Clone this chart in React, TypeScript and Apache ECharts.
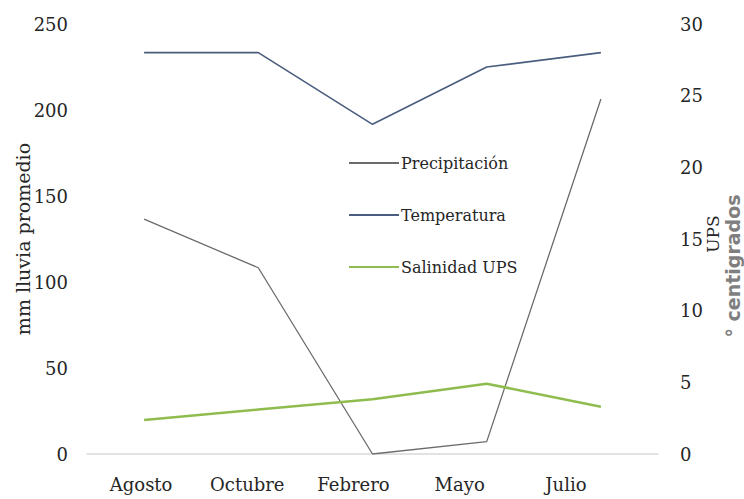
import React, { useEffect, useRef } from "react";
import * as echarts from "echarts";

const categories = ["Agosto", "Octubre", "Febrero", "Mayo", "Julio"];
const precipitacion = [136.5, 108.3, 0, 7.2, 206.4];
const temperatura = [28, 28, 23, 27, 28];
const salinidad = [2.37, 3.1, 3.82, 4.9, 3.3];

const SERIF = "'DejaVu Serif', 'Liberation Serif', serif";

export default function App() {
  const ref = useRef<HTMLDivElement>(null);
  useEffect(() => {
    if (!ref.current) return;
    const chart = echarts.init(ref.current, undefined, { renderer: "svg" });
    chart.setOption({
      animation: false,
      backgroundColor: "#ffffff",
      grid: [
        { left: 87, right: 86, top: 24, bottom: 45 },
        { left: 88, right: 125, top: 24, bottom: 45 },
      ],
      legend: {
        orient: "vertical",
        left: 343,
        top: 150,
        itemWidth: 50,
        itemHeight: 14,
        itemGap: 36,
        itemStyle: { opacity: 0 },
        textStyle: { fontFamily: SERIF, fontSize: 16, color: "#262626", padding: [0, 0, 0, -3] },
        data: ["Precipitación", "Temperatura", "Salinidad UPS"],
      },
      xAxis: [
        {
          type: "category",
          gridIndex: 0,
          data: categories,
          boundaryGap: true,
          axisLine: { lineStyle: { color: "#d9d9d9", width: 1.5 } },
          axisTick: { show: false },
          axisLabel: { show: false },
        },
        {
          type: "category",
          gridIndex: 1,
          data: categories,
          boundaryGap: true,
          axisLine: { show: false },
          axisTick: { show: false },
          axisLabel: { fontFamily: SERIF, fontSize: 18, color: "#262626", margin: 21 },
        },
      ],
      yAxis: [
        {
          type: "value",
          gridIndex: 0,
          min: 0,
          max: 250,
          interval: 50,
          name: "mm lluvia promedio",
          nameLocation: "middle",
          nameGap: 55,
          nameMoveOverlap: false,
          nameTextStyle: { fontFamily: SERIF, fontSize: 19, color: "#262626" },
          axisLine: { show: false },
          axisTick: { show: false },
          splitLine: { show: false },
          axisLabel: { fontFamily: SERIF, fontSize: 18, color: "#262626", margin: 19 },
        },
        {
          type: "value",
          gridIndex: 0,
          min: 0,
          max: 30,
          interval: 5,
          axisLine: { show: false },
          axisTick: { show: false },
          splitLine: { show: false },
          axisLabel: { fontFamily: SERIF, fontSize: 18, color: "#262626", margin: 22 },
        },
        {
          type: "value",
          gridIndex: 1,
          show: false,
        },
      ],
      graphic: [
        {
          type: "text",
          x: 713,
          y: 234,
          rotation: Math.PI / 2,
          style: {
            text: "UPS",
            fontFamily: SERIF,
            fontSize: 17,
            fill: "#262626",
            align: "center",
            verticalAlign: "middle",
          },
        },
        {
          type: "text",
          x: 733,
          y: 266,
          rotation: Math.PI / 2,
          style: {
            text: "° centigrados",
            fontFamily: "'DejaVu Sans', sans-serif",
            fontWeight: "bold",
            fontSize: 19,
            fill: "#7f7f7f",
            align: "center",
            verticalAlign: "middle",
          },
        },
      ],
      series: [
        {
          name: "Precipitación",
          type: "line",
          xAxisIndex: 0,
          yAxisIndex: 0,
          data: precipitacion,
          symbol: "none",
          lineStyle: { color: "#6b6b6b", width: 1.3 },
          itemStyle: { color: "#6b6b6b" },
        },
        {
          name: "Temperatura",
          type: "line",
          xAxisIndex: 0,
          yAxisIndex: 1,
          data: temperatura,
          symbol: "none",
          lineStyle: { color: "#4a5d7e", width: 1.6 },
          itemStyle: { color: "#4a5d7e" },
        },
        {
          name: "Salinidad UPS",
          type: "line",
          xAxisIndex: 0,
          yAxisIndex: 1,
          data: salinidad,
          symbol: "none",
          lineStyle: { color: "#8fbc4f", width: 2.6 },
          itemStyle: { color: "#8fbc4f" },
        },
      ],
    });
    return () => chart.dispose();
  }, []);
  return <div ref={ref} style={{ width: 744, height: 499, position: "absolute", left: 0, top: 0 }} />;
}
